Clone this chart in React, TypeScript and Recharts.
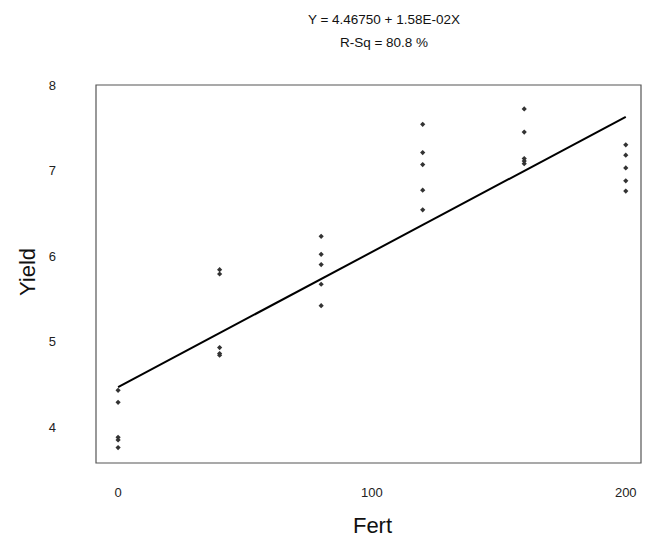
import { ComposedChart, Scatter, XAxis, YAxis, ReferenceLine, ReferenceArea } from 'recharts';

const fert0 = [4.43, 4.29, 3.88, 3.85, 3.76];
const fert40 = [5.84, 5.79, 4.93, 4.86, 4.84];
const fert80 = [6.23, 6.02, 5.90, 5.67, 5.42];
const fert120 = [7.54, 7.21, 7.07, 6.77, 6.54];
const fert160 = [7.72, 7.45, 7.14, 7.11, 7.08];
const fert200 = [7.30, 7.18, 7.03, 6.88, 6.76];

const fertLevels = [0, 40, 80, 120, 160, 200];
const yieldGroups = [fert0, fert40, fert80, fert120, fert160, fert200];

const xTicks = [0, 100, 200];
const yTicks = [4, 5, 6, 7, 8];

// fitted line Y = 4.46750 + 1.58E-02X
const intercept = 4.4675;
const slope = 0.0158;
const fitStart = 0;
const fitEnd = 200;

const xDomain: [number, number] = [-8.7, 206];
const yDomain: [number, number] = [3.58, 8.0];

const points = fertLevels.flatMap((f, i) => yieldGroups[i].map((y) => ({ fert: f, yield: y })));

const FONT = '"Liberation Sans", Arial, sans-serif';

function Diamond(props: any) {
  const { cx, cy } = props;
  const r = 2.6;
  return <path d={`M${cx},${cy - r}L${cx + r},${cy}L${cx},${cy + r}L${cx - r},${cy}Z`} fill="#333" />;
}

function YieldLabel(props: any) {
  const vb = props.viewBox;
  const x = 27;
  const y = vb.y + vb.height / 2 - 2;
  return (
    <text x={x} y={y} transform={`rotate(-90 ${x} ${y})`} textAnchor="middle" dominantBaseline="central"
      fontSize={22} fill="#111" fontFamily={FONT}>
      Yield
    </text>
  );
}

function FertLabel(props: any) {
  const vb = props.viewBox;
  return (
    <text x={vb.x + vb.width / 2 + 4} y={533} textAnchor="middle" fontSize={22} fill="#111" fontFamily={FONT}>
      Fert
    </text>
  );
}

export default function App() {
  return (
    <div style={{ position: 'absolute', left: 0, top: 0, width: 654, height: 542, background: '#fff' }}>
      <div style={{ position: 'absolute', left: 234, top: 8, width: 300, textAlign: 'center', fontFamily: FONT, fontSize: 13.5, color: '#111', lineHeight: '23px' }}>
        <div>Y = 4.46750 + 1.58E-02X</div>
        <div>R-Sq = 80.8 %</div>
      </div>
      <ComposedChart width={654} height={542} data={points} margin={{ top: 85, right: 13, bottom: 0, left: 0 }}>
        <XAxis
          dataKey="fert"
          type="number"
          domain={xDomain}
          ticks={xTicks}
          allowDataOverflow
          height={79}
          axisLine={false}
          tickLine={false}
          tickSize={0}
          tickMargin={25}
          tick={{ fill: '#222', fontSize: 13, fontFamily: FONT }}
          label={<FertLabel />}
        />
        <YAxis
          dataKey="yield"
          type="number"
          domain={yDomain}
          ticks={yTicks}
          allowDataOverflow
          width={96}
          axisLine={false}
          tickLine={false}
          tickSize={0}
          tickMargin={40}
          tick={{ fill: '#222', fontSize: 13, fontFamily: FONT }}
          label={<YieldLabel />}
        />
        <ReferenceArea x1={xDomain[0]} x2={xDomain[1]} y1={yDomain[0]} y2={yDomain[1]} fill="none" stroke="#555" strokeWidth={1.2} />
        <ReferenceLine
          segment={[
            { x: fitStart, y: intercept + slope * fitStart },
            { x: fitEnd, y: intercept + slope * fitEnd },
          ]}
          stroke="#000"
          strokeWidth={2}
        />
        <Scatter data={points} dataKey="yield" shape={<Diamond />} isAnimationActive={false} />
      </ComposedChart>
    </div>
  );
}
